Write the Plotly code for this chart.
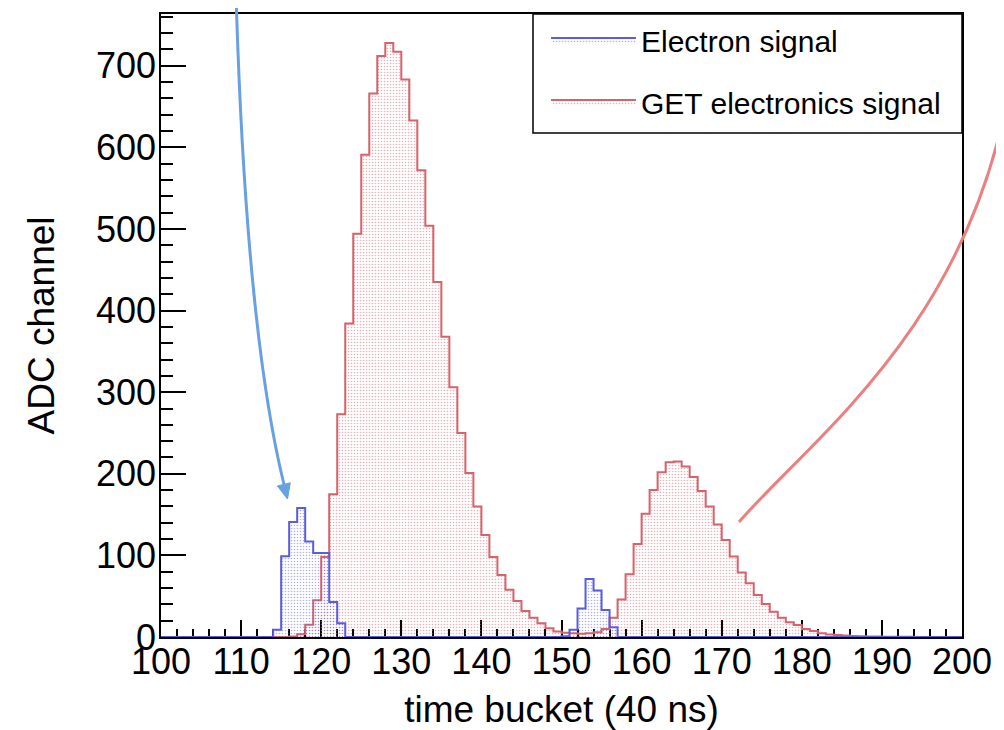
import plotly.graph_objects as go

# ---------------- data ----------------
# lower edges of the 1-unit time-bucket bins (100 ... 199), upper edge 200
bin_low = list(range(100, 200))

electron_signal = (
    [0] * 14
    + [9, 99, 141, 158, 117, 103, 103, 43, 17]          # bins 114-122
    + [0] * 27
    + [1, 9, 35, 71, 57, 33, 12]                        # bins 150-156
    + [0] * 43
)

get_signal = (
    [0] * 16
    + [0.5, 3.5, 15, 45, 98, 175, 273, 384, 494, 591,   # bins 116-125
       666, 712, 728, 717, 683, 633, 572, 504, 435, 368,  # 126-135
       306, 250, 201, 160, 125, 98, 76, 58, 44, 32,       # 136-145
       23.5, 16.8, 10.6, 6.8, 5.3, 4.5, 4, 4.7, 5.7, 9.8,  # 146-155
       23.5, 46, 77, 114, 151, 180, 202, 214, 215, 209,   # 156-165
       196, 179, 160, 138, 119, 98.5, 79, 66, 51.5, 40.5, # 166-175
       31, 23.7, 18, 14.7, 9.8, 7.4, 4.5, 3.2, 2.4, 1.8,  # 176-185
       1.3, 1.0, 0.7, 0.5, 0.4, 0.3, 0.2, 0.2, 0.1, 0.1]  # 186-195
    + [0] * 4
)
assert len(electron_signal) == 100 and len(get_signal) == 100

x_range = [100, 200]
y_range = [0, 763.4]

# ---------------- layout geometry (page has an 8px body margin) ----------------
OFF = 8
W, H = 1004 - OFF, 730 - OFF
PL, PR, PT, PB = 161, 962, 14, 637        # plot frame in page pixels
ML, MR, MT, MB = PL - OFF, W - (PR - OFF), PT - OFF, H - (PB - OFF)
FONT = "Liberation Sans, Arial, Helvetica, sans-serif"

edges = bin_low + [bin_low[-1] + 1]


def step_y(vals):
    return list(vals) + [vals[-1]]


fig = go.Figure()

fig.add_trace(go.Scatter(
    x=edges, y=step_y(get_signal), mode="lines", line_shape="hv",
    name="GET electronics signal", legendrank=2, legendgroup="g",
    line=dict(color="rgb(214,98,108)", width=2),
    fill="tozeroy", fillcolor="rgba(255,255,255,0)",
    fillpattern=dict(shape=".", fgcolor="rgb(205,95,105)", bgcolor="rgba(255,255,255,0)",
                     size=3, solidity=0.22),
))
fig.add_trace(go.Scatter(
    x=edges, y=step_y(electron_signal), mode="lines", line_shape="hv",
    name="Electron signal", legendrank=1, legendgroup="e",
    line=dict(color="rgb(92,92,222)", width=2),
    fill="tozeroy", fillcolor="rgba(255,255,255,0)",
    fillpattern=dict(shape=".", fgcolor="rgb(95,95,220)", bgcolor="rgba(255,255,255,0)",
                     size=3, solidity=0.22),
))

# ---- decorative arrows / legend frame (paper coords from page pixel positions) ----
PW, PH = PR - PL, PB - PT


def P(px, py):
    return (px - PL) / PW, (PB - py) / PH


def fmt(p):
    return f"{p[0]:.5f},{p[1]:.5f}"


blue = "rgb(104,160,226)"
red_c = "rgb(234,128,128)"
b0, bc, b1 = P(236, -6), P(246, 330), P(284, 484.5)
tip, bl, br = P(287.5, 499), P(290.3, 482.8), P(277.4, 486.0)
shapes = [
    dict(type="path", xref="paper", yref="paper",
         path=f"M{fmt(b0)} Q{fmt(bc)} {fmt(b1)}",
         line=dict(color=blue, width=3)),
    dict(type="path", xref="paper", yref="paper",
         path=f"M{fmt(tip)} L{fmt(bl)} L{fmt(br)} Z",
         line=dict(color=blue, width=1), fillcolor=blue),
]
r0, rc1, rc2, r1 = P(739, 522), P(810, 440), P(965, 330), P(1008, 95)
shapes.append(dict(type="path", xref="paper", yref="paper",
                   path=f"M{fmt(r0)} C{fmt(rc1)} {fmt(rc2)} {fmt(r1)}",
                   line=dict(color=red_c, width=3)))
lg0, lg1 = P(533, 133), P(962, 14)
shapes.append(dict(type="rect", xref="paper", yref="paper",
                   x0=lg0[0], y0=lg0[1], x1=lg1[0], y1=lg1[1],
                   line=dict(color="black", width=1.5), fillcolor="white"))

axis_common = dict(
    showline=True, linecolor="black", linewidth=1.5, mirror=True,
    ticks="inside", tickcolor="black", tickwidth=1.5,
    showgrid=False, zeroline=False,
    tickfont=dict(family=FONT, size=36, color="black"),
)

leg_x, _ = P(546, 0)

fig.update_layout(
    width=W, height=H,
    margin=dict(l=ML, r=MR, t=MT, b=MB, autoexpand=False),
    paper_bgcolor="white", plot_bgcolor="white",
    font=dict(family=FONT, color="black"),
    showlegend=True,
    legend=dict(
        x=leg_x, xanchor="left", y=1, yanchor="top",
        borderwidth=0, bgcolor="rgba(255,255,255,0)",
        font=dict(family=FONT, size=30, color="black"),
        itemwidth=85, tracegroupgap=20, traceorder="grouped",
    ),
    xaxis=dict(
        **axis_common, range=x_range, tick0=100, dtick=10, ticklen=17,
        layer="below traces", ticklabelstandoff=-8,
        minor=dict(ticks="inside", dtick=2, ticklen=8, tickcolor="black", tickwidth=1.5, showgrid=False),
        title=dict(text="time bucket (40 ns)", font=dict(family=FONT, size=37), standoff=22),
        automargin=False,
    ),
    yaxis=dict(
        **axis_common, range=y_range, tick0=0, dtick=100, ticklen=25,
        ticklabelstandoff=-4,
        minor=dict(ticks="inside", dtick=20, ticklen=12, tickcolor="black", tickwidth=1.5, showgrid=False),
        title=dict(text="ADC channel", font=dict(family=FONT, size=37), standoff=30),
        automargin=False,
    ),
    shapes=shapes,
)

fig.write_html("out.html")
